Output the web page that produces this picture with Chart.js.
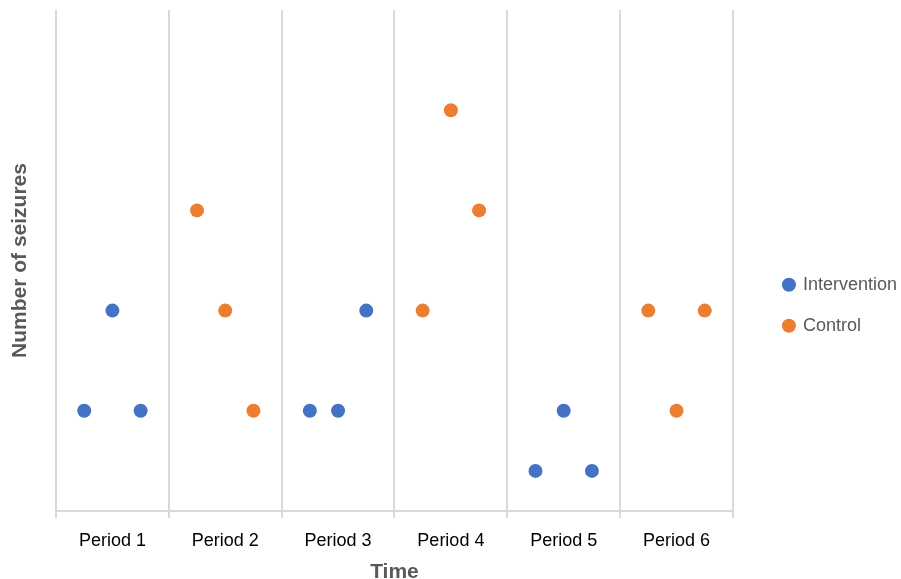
<!DOCTYPE html>
<html>
<head>
<meta charset="utf-8">
<script src="https://cdn.jsdelivr.net/npm/chart.js@4"></script>
<style>
html,body{margin:0;padding:0;background:#fff;}
#wrap{width:901px;height:579px;}
</style>
</head>
<body>
<div id="wrap"><canvas id="c" width="901" height="579"></canvas></div>
<script>
const periods = ['Period 1','Period 2','Period 3','Period 4','Period 5','Period 6'];
const interventionPeriods = [1, 3, 5];
const interventionValues = [[1, 2, 1], [1, 1, 2], [0.4, 1, 0.4]];
const controlPeriods = [2, 4, 6];
const controlValues = [[3, 2, 1], [2, 4, 3], [2, 1, 2]];
const slotOffsets = [-0.75, -0.5, -0.25];

function toPoints(pers, vals) {
  const pts = [];
  pers.forEach((p, i) => {
    vals[i].forEach((v, j) => pts.push({x: p + slotOffsets[j], y: v}));
  });
  return pts;
}

const FONT = "'Liberation Sans', Arial, Helvetica, sans-serif";
Chart.defaults.font.family = FONT;

new Chart(document.getElementById('c'), {
  type: 'scatter',
  data: {
    datasets: [
      {label: 'Intervention', data: toPoints(interventionPeriods, interventionValues),
       backgroundColor: '#4472C4', borderColor: '#4472C4', pointRadius: 7, pointHoverRadius: 7, pointBorderWidth: 0},
      {label: 'Control', data: toPoints(controlPeriods, controlValues),
       backgroundColor: '#ED7D31', borderColor: '#ED7D31', pointRadius: 7, pointHoverRadius: 7, pointBorderWidth: 0}
    ]
  },
  options: {
    responsive: false,
    devicePixelRatio: 1,
    animation: false,
    layout: {padding: {top: 10, left: 8, right: -6, bottom: 0}},
    plugins: {
      tooltip: {enabled: false},
      legend: {
        position: 'right',
        title: {display: true, text: ' ', padding: 0, font: {size: 18}},
        labels: {
          usePointStyle: true, pointStyle: 'circle', boxWidth: 10, boxHeight: 10,
          padding: 23, color: '#595959', font: {size: 18}
        }
      }
    },
    scales: {
      x: {
        type: 'linear', min: 0, max: 6,
        afterBuildTicks: (axis) => {
          const t = [];
          for (let v = 0; v <= 12; v++) t.push({value: v / 2});
          axis.ticks = t;
        },
        ticks: {
          autoSkip: false, maxRotation: 0, color: '#000', font: {size: 18, lineHeight: 1}, padding: 14,
          callback: (v) => (v % 1 === 0.5) ? periods[Math.floor(v)] : ''
        },
        grid: {
          display: true, drawOnChartArea: true, drawTicks: true, tickLength: 7,
          lineWidth: 2,
          color: (ctx) => (ctx.tick && ctx.tick.value % 1 === 0) ? '#d9d9d9' : 'rgba(0,0,0,0)',
          tickColor: (ctx) => (ctx.tick && ctx.tick.value % 1 === 0) ? '#d9d9d9' : 'rgba(0,0,0,0)'
        },
        border: {display: true, color: '#d9d9d9', width: 2},
        title: {display: true, text: 'Time', color: '#595959', font: {size: 21, weight: 'bold', lineHeight: 1}, padding: {top: -2, bottom: -4}}
      },
      y: {
        min: 0, max: 5,
        ticks: {display: false},
        grid: {display: false},
        border: {display: false},
        title: {display: true, text: 'Number of seizures', color: '#595959', font: {size: 21, weight: 'bold'}, padding: {top: 0, bottom: 14.8}}
      },
      y2: {
        position: 'right', min: 0, max: 5,
        ticks: {display: false},
        grid: {display: false},
        border: {display: false},
        afterFit: (axis) => { axis.width = 28; }
      }
    }
  }
});
</script>
</body>
</html>
